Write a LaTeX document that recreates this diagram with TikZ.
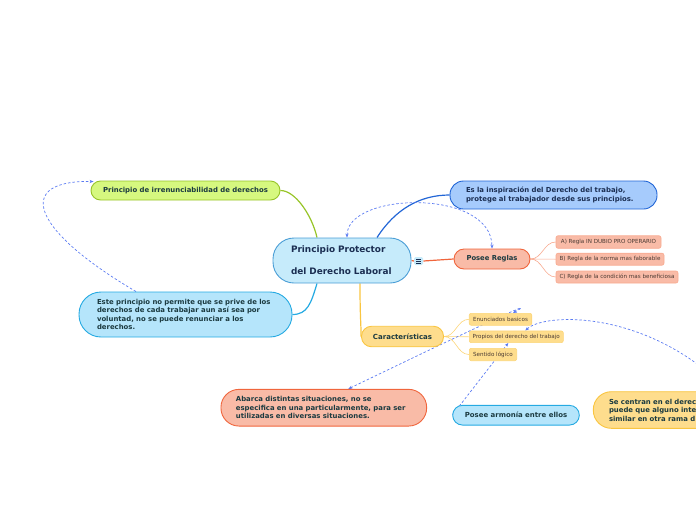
\documentclass[tikz,border=0pt]{standalone}
\usepackage{fontspec}
\setmainfont{DejaVu Sans}
\usetikzlibrary{arrows.meta,calc}
\pgfdeclarelayer{bg}
\pgfsetlayers{bg,main}
\definecolor{txt}{HTML}{1B3A40}
\definecolor{navy}{HTML}{1B2E52}
\definecolor{subtxt}{HTML}{4A3A33}
\definecolor{cfill}{HTML}{C6EBFB}
\definecolor{cline}{HTML}{4B9ED6}
\definecolor{gfill}{HTML}{D6F87F}
\definecolor{gline}{HTML}{97C428}
\definecolor{bfill}{HTML}{B5E5FB}
\definecolor{bline}{HTML}{25AAE2}
\definecolor{dfill}{HTML}{A6CBFC}
\definecolor{dline}{HTML}{2266D6}
\definecolor{ofill}{HTML}{F9BBA7}
\definecolor{oline}{HTML}{F0653C}
\definecolor{osub}{HTML}{F8AA90}
\definecolor{yfill}{HTML}{FEDD8D}
\definecolor{yline}{HTML}{F9C540}
\definecolor{ysub}{HTML}{FCD577}
\definecolor{dash}{HTML}{5B7BF2}
\begin{document}
\begin{tikzpicture}[x=1pt,y=-1pt,
  box/.style={draw, rectangle, line width=0.9pt, inner ysep=0pt, text=txt,
    font=\bfseries\fontsize{6.9}{8.5}\selectfont},
  subbox/.style={draw, rectangle, line width=0.6pt, inner sep=0pt,
    rounded corners=2pt, text=subtxt, font=\fontsize{5.6}{7}\selectfont},
  conn/.style={line width=1.2pt},
  subconn/.style={line width=0.6pt},
  link/.style={draw=dash, line width=0.7pt, dash pattern=on 2.5pt off 2pt,
    >={Stealth[length=4pt,width=3.2pt]}}
]
\useasboundingbox (0,0) rectangle (696,520);
\clip (0,0) rectangle (696,520);

% central
\node[box, fill=cfill, draw=cline, text=navy, minimum width=138pt, minimum height=45pt,
  rounded corners=21pt, inner xsep=18pt, text width=102pt, align=left,
  font=\bfseries\fontsize{8.9}{22}\selectfont] (central) at (342,260.5)
  {Principio Protector\\del Derecho Laboral};
\node[rectangle, fill=cfill, minimum width=9pt, minimum height=8pt, inner sep=0pt,
  rounded corners=1.5pt] (icon) at (418.7,261) {};
\foreach \dy in {-2,0,2}
  \draw[navy, line width=0.7pt] ([xshift=-2.6pt,yshift=\dy pt]icon.center) -- ++(5.2,0);

\node[box, fill=gfill, draw=gline, minimum width=189pt, minimum height=19pt,
  rounded corners=9.5pt] (irr) at (185.5,190.5)
  {Principio de irrenunciabilidad de derechos};

\node[box, fill=bfill, draw=bline, minimum width=213pt, minimum height=45pt,
  rounded corners=22pt, inner xsep=18pt, text width=177pt, align=left] (este) at (185.5,314.5)
  {Este principio no permite que se prive de los\\derechos de cada trabajar aun así sea por\\voluntad, no se puede renunciar a los\\derechos.};

\node[box, fill=dfill, draw=dline, text=navy, minimum width=207pt, minimum height=28pt,
  rounded corners=13.5pt, inner xsep=16pt, text width=175pt, align=left] (insp) at (553.5,195)
  {Es la inspiración del Derecho del trabajo,\\protege al trabajador desde sus principios.};

\node[box, fill=ofill, draw=oline, minimum width=76pt, minimum height=20pt,
  rounded corners=10pt, font=\bfseries\fontsize{6.8}{8}\selectfont] (reglas) at (492,259)
  {Posee Reglas};

\node[subbox, fill=ofill, draw=osub, minimum width=105pt, minimum height=12.5pt]
  (ruleA) at (608.5,242) {A) Regla IN DUBIO PRO OPERARIO};
\node[subbox, fill=ofill, draw=osub, minimum width=108pt, minimum height=12pt]
  (ruleB) at (610,259.2) {B) Regla de la norma mas faborable};
\node[subbox, fill=ofill, draw=osub, minimum width=122pt, minimum height=12pt]
  (ruleC) at (617,277) {C) Regla de la condición mas beneficiosa};

\node[box, fill=yfill, draw=yline, minimum width=82pt, minimum height=20.5pt,
  rounded corners=10pt, font=\bfseries\fontsize{7}{8}\selectfont] (caract) at (402.5,336.5)
  {Características};

\node[subbox, fill=yfill, draw=ysub, minimum width=62.5pt, minimum height=12pt]
  (enun) at (500.5,319.3) {Enunciados basicos};
\node[subbox, fill=yfill, draw=ysub, minimum width=94pt, minimum height=11.7pt]
  (prop) at (516.3,336.8) {Propios del derecho del trabajo};
\node[subbox, fill=yfill, draw=ysub, minimum width=47.4pt, minimum height=12.4pt]
  (sent) at (493,354.5) {Sentido lógico};

\node[box, fill=ofill, draw=oline, minimum width=205.7pt, minimum height=36.7pt,
  rounded corners=18pt, inner xsep=15pt, text width=175.7pt, align=left] (abarca) at (323.8,407.7)
  {Abarca distintas situaciones, no se\\especifica en una particularmente, para ser\\utilizadas en diversas situaciones.};

\node[box, fill=bfill, draw=bline, minimum width=126.6pt, minimum height=19.7pt,
  rounded corners=9.8pt, font=\bfseries\fontsize{6.95}{8}\selectfont] (armonia) at (516,415.2)
  {Posee armonía entre ellos};

\node[box, fill=yfill, draw=yline, minimum width=230pt, minimum height=36.6pt,
  rounded corners=18pt, inner xsep=15.7pt, text width=198.6pt, align=left] (centran) at (708.3,410)
  {Se centran en el derec\\puede que alguno inte\\similar en otra rama d};

\begin{pgfonlayer}{bg}
\clip (0,0) rectangle (696,520);
% branches
\draw[conn, gline] (irr.east) .. controls +(15,0) and +(-5,-22) .. ([xshift=-25pt]central.north);
\draw[conn, bline] ([xshift=-25pt]central.south) .. controls +(-6,20) and +(15,0) .. (este.east);
\draw[conn, dline] ([xshift=35pt]central.north) .. controls +(18,-28) and +(-30,0) .. (insp.west);
\draw[conn, oline] (central.east) -- (icon.west);
\draw[conn, oline] (icon.east) -- (reglas.west);
\draw[conn, yline] ([xshift=18pt]central.south) .. controls +(0,35) and +(0,-15) .. (caract.west);
\foreach \n in {ruleA,ruleB,ruleC}
  \draw[subconn, osub] (reglas.east) .. controls +(12,0) and +(-12,0) .. (\n.west);
\foreach \n in {enun,prop,sent}
  \draw[subconn, ysub] (caract.east) .. controls +(12,0) and +(-12,0) .. (\n.west);
% links
\draw[link, ->] ([xshift=-49.5pt]este.north) .. controls (28,228) and (16,180) .. ([xshift=3pt,yshift=-1pt]irr.north west);
\draw[link, <->] ([xshift=5pt]central.north) .. controls (347,192) and (491.5,188) .. (reglas.north);
\draw[link, <->] ([xshift=24.5pt]abarca.north) .. controls (460,335) and (545,295) .. ([xshift=12.5pt]enun.north);
\draw[link, <->] (armonia.west) -- ([xshift=-8pt]prop.south);
\draw[link, <-] ([xshift=9pt]prop.north) .. controls (545,312) and (650,310) .. ([xshift=20pt]centran.north);
\end{pgfonlayer}
\end{tikzpicture}
\end{document}
